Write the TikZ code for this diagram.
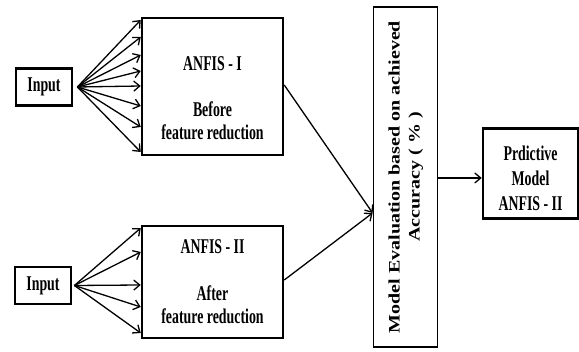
\documentclass[tikz,border=0pt]{standalone}
\usepackage{fontspec}
\setmainfont{Liberation Serif}[FakeStretch=0.66]
\newfontfamily\evalfont{Liberation Serif}
\usepackage{graphicx}
\usetikzlibrary{arrows.meta,positioning,calc}
\tikzset{
  >={Straight Barb[length=6pt,width=10pt]},
  every node/.style={font=\fontsize{21}{23}\selectfont\bfseries},
  box/.style={draw,line width=2.5pt,align=center,inner sep=0pt},
  inbox/.style={box,line width=2.8pt,minimum width=56pt,minimum height=37pt},
  anfisbox/.style={box,minimum width=141pt},
  evalbox/.style={box,line width=1.8pt,minimum width=64pt,minimum height=340pt},
  arrow/.style={->,line width=1.3pt},
}
\newcommand{\topgap}[1]{\rule{0pt}{#1}}

\begin{document}
\begin{tikzpicture}[x=1pt,y=-1pt]
  \useasboundingbox (0,0) rectangle (579,352);

  \node[inbox] (in1) at (44,87) {Input};
  \node[inbox] (in2) at (43,285.5) {Input};
  \node[anfisbox,minimum height=137pt] (anfisA) at (212.5,86.5) {\topgap{37pt}ANFIS - I\\[23pt]Before\\feature reduction};
  \node[anfisbox,minimum height=112pt] (anfisB) at (212.5,282) {ANFIS - II\\[24pt]After\\feature reduction};
  \node[evalbox] (eval) at (405.5,177) {\rotatebox{90}{\scalebox{1}[0.8]{\evalfont\fontsize{20}{25}\selectfont\bfseries
    \begin{tabular}{@{}c@{}}Model Evaluation based on achieved\\Accuracy ( \% )\end{tabular}}}};
  \node[box,minimum width=95pt,minimum height=90pt,font=\fontsize{21}{25}\selectfont\bfseries] (pred) at (530.5,173.5) {\topgap{25pt}Prdictive\\Model\\ANFIS - II};

  % fan of inputs
  \coordinate (fan1) at ([xshift=4pt]in1.east);
  \coordinate (fan2) at ([xshift=2pt]in2.east);
  \foreach \y in {20,37,55,71,86,106,127,152}
    \draw[arrow] (fan1) -- (anfisA.west |- 0,\y);
  \foreach \y in {228,252,285,307,333}
    \draw[arrow] (fan2) -- (anfisB.west |- 0,\y);

  \coordinate (merge) at (eval.west |- 0,213);
  \draw[arrow] (anfisA.east |- 0,85) -- (merge);
  \draw[arrow] (anfisB.east |- 0,280) -- (merge);
  \draw[arrow] (eval.east |- 0,178) -- (pred.west |- 0,178);
\end{tikzpicture}
\end{document}
